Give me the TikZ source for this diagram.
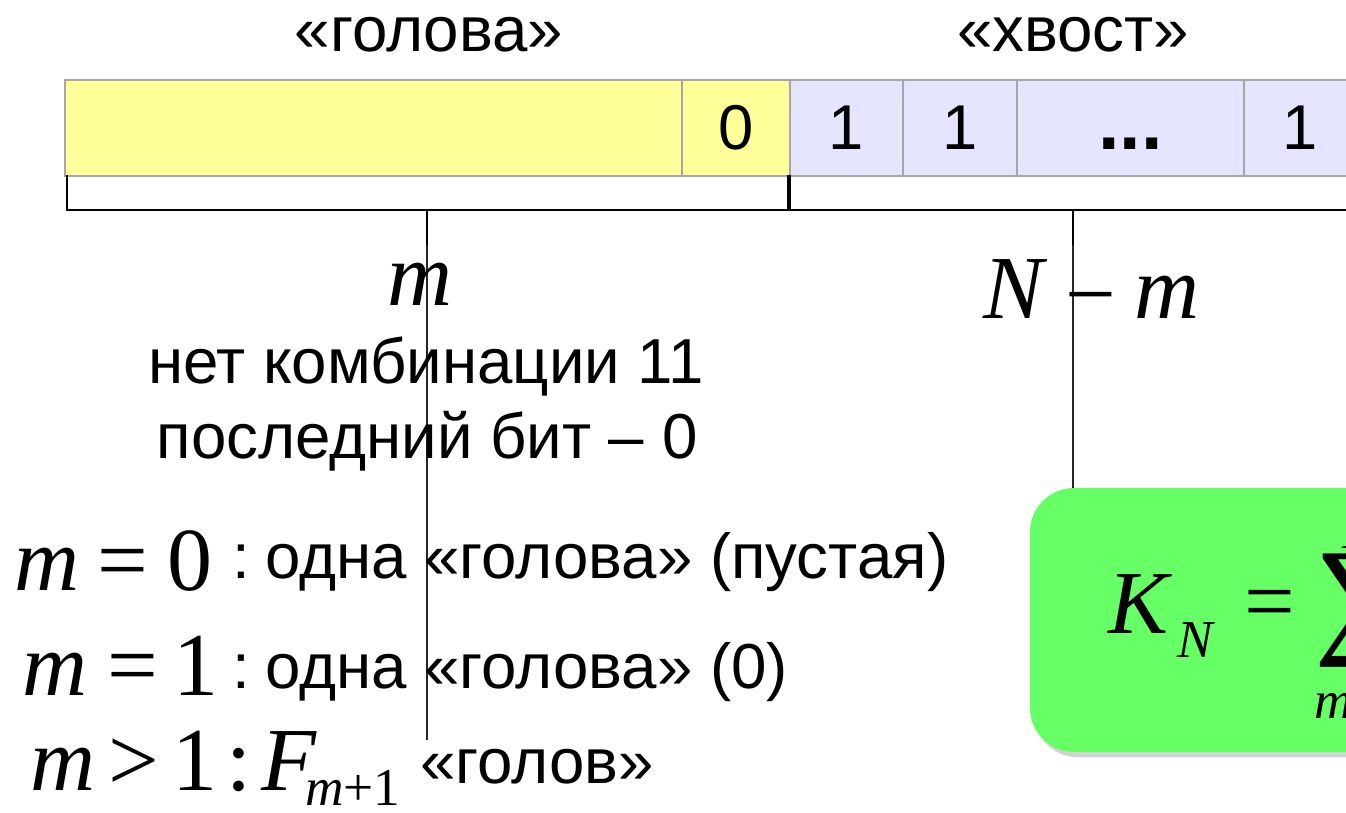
\documentclass[tikz,border=0pt]{standalone}
\usepackage{fontspec}
\setmainfont{Liberation Sans}
\newfontfamily\tnr{Liberation Serif}
\usetikzlibrary{shadows}
\definecolor{headc}{HTML}{FFFF99}
\definecolor{tailc}{HTML}{E5E5FF}
\definecolor{cellb}{HTML}{A6A6A6}
\definecolor{boxg}{HTML}{66FF66}
\newcommand{\mi}[1]{{\tnr\itshape #1}}
\newcommand{\mr}[1]{{\tnr #1}}
\begin{document}
\begin{tikzpicture}[x=0.75pt,y=-0.75pt,
  cell/.style={draw=cellb, line width=1.2pt, inner sep=0pt, minimum height=72pt,
    text height=33pt, text depth=0pt, font=\fontsize{47.5}{56}\selectfont},
  brk/.style={line width=2.2pt, line cap=rect},
  thinl/.style={line width=1pt, draw=black!85},
  sans/.style={inner sep=0pt, font=\fontsize{47.7}{56}\selectfont},
  bigm/.style={inner sep=0pt, font=\fontsize{67.5}{80}\selectfont},
  smallm/.style={inner sep=0pt, font=\fontsize{40}{48}\selectfont}]
\useasboundingbox (0,0) rectangle (1346,813);
\clip (0,0) rectangle (1346,813);
% cells
\node[cell, fill=headc, minimum width=462.75pt] (h1) at (373.5,128) {};
\node[cell, fill=headc, minimum width=81pt] (h0) at (736,128) {0};
\node[cell, fill=tailc, minimum width=84.75pt] (t1) at (846.5,128) {1};
\node[cell, fill=tailc, minimum width=85.5pt] (t2) at (960,128) {1};
\node[cell, fill=tailc, minimum width=170.25pt] (t3) at (1130.5,128) {\fontsize{58}{60}\selectfont\bfseries ...};
\node[cell, fill=tailc, minimum width=84.75pt] (t4) at (1300.5,128) {1};
% headings
\node[sans, anchor=base] (lhead) at (429,52) {«голова»};
\node[sans, anchor=base] (ltail) at (1073,52) {«хвост»};
% brackets
\draw[brk] (67,176) -- (67,210) -- (788,210) -- (788,176);
\draw[brk] (790,176) -- (790,210) -- (1400,210);
\coordinate (s1) at (427,210);
\coordinate (s1b) at (427,245);
\coordinate (s1e) at (427,740);
\coordinate (s2) at (1073,210);
\coordinate (s2b) at (1073,245);
% green box
\path[fill=boxg, rounded corners=33pt, drop shadow={shadow xshift=3pt, shadow yshift=-4pt, opacity=0.35}]
  (1030,488) rectangle (1430,752);
\coordinate (s2e) at (1073,488);
\draw[brk, line cap=butt] (s1) -- (s1b);
\draw[thinl] (s1b) -- (s1e);
\draw[brk, line cap=butt] (s2) -- (s2b);
\draw[thinl] (s2b) -- (s2e);
% labels of brackets
\node[bigm, anchor=base] (lm) at (420,305) {\mi{m}};
\node[bigm, anchor=base west] (lnm) at (983,318) {\mi{N}\hspace{0.25em}\raisebox{-5pt}{\mr{−}}\hspace{0.2em}\mi{m}};
\node[sans, anchor=base] (c1) at (426,383) {нет комбинации 11};
\node[sans, anchor=base] (c2) at (427,458) {последний бит – 0};
% rows
\node[bigm, anchor=base west] (r1m) at (14,590) {\mi{m}\hspace{0.2em}\mr{=}\hspace{0.22em}\mr{0}};
\node[sans, anchor=base west] (r1c) at (232,578) {:};
\node[sans, anchor=base west] (r1t) at (265,578) {одна «голова» (пустая)};
\node[bigm, anchor=base west] (r2m) at (22,695) {\mi{m}\hspace{0.22em}\mr{=}\hspace{0.18em}\mr{1}};
\node[sans, anchor=base west] (r2c) at (232,688) {:};
\node[sans, anchor=base west] (r2t) at (265,688) {одна «голова» (0)};
\node[bigm, anchor=base west] (r3m) at (30,790) {\mi{m}\hspace{0.15em}\mr{>}\hspace{0.15em}\mr{1}\hspace{0.1em}\mr{:}\hspace{0.1em}\mi{F}};
\node[smallm, anchor=base west] (r3s) at (305,805) {\mi{m}\mr{+1}};
\node[sans, anchor=base west] (r3t) at (420,783) {«голов»};
% formula
\node[bigm, anchor=base west] (kk) at (1108,633) {\mi{K}};
\node[smallm, anchor=base west] (kn) at (1177,657) {\mi{N}};
\node[bigm, anchor=center] (keq) at (1270,611) {\mr{=}};
\node[inner sep=0pt, anchor=north west] (ksum) at (1314,554) {\resizebox*{!}{85pt}{\tnr ∑}};
\node[smallm, anchor=base west] (kup) at (1342,548) {\mi{N}};
\node[smallm, anchor=base west] (klow) at (1314,718) {\mi{m}\mr{=0}};
\end{tikzpicture}
\end{document}
